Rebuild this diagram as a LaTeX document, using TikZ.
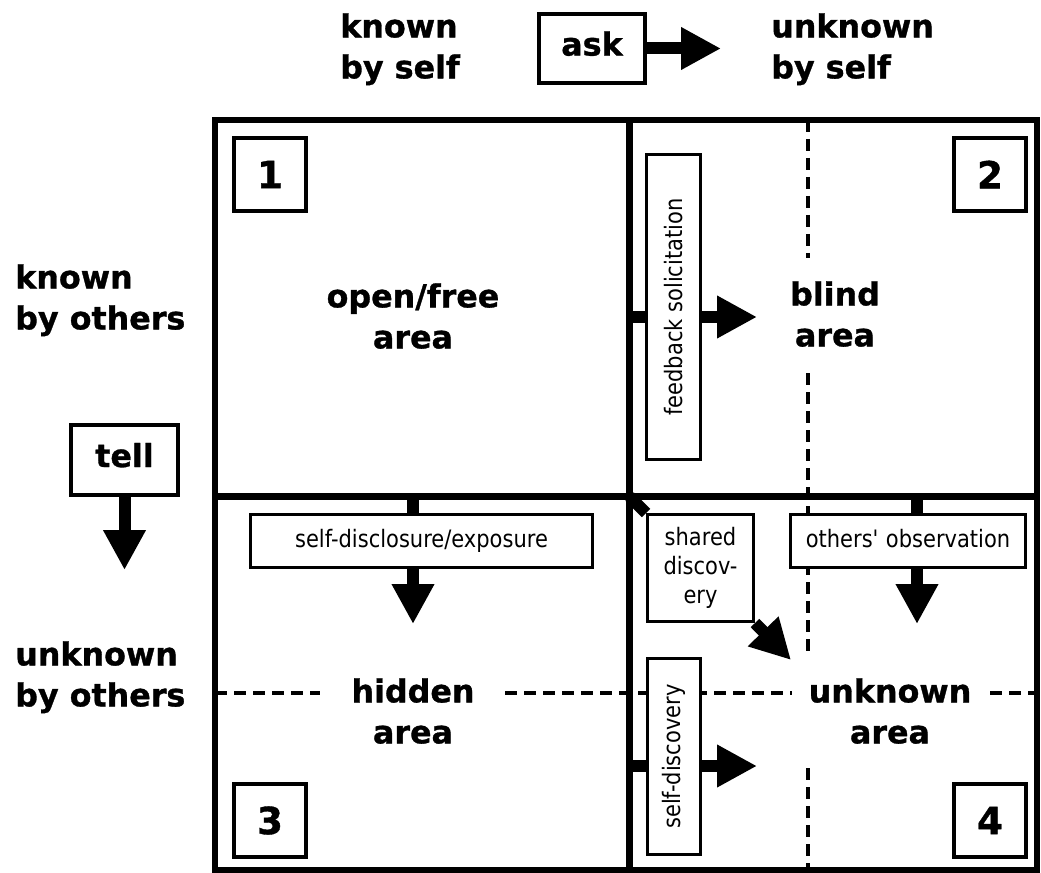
\documentclass[tikz,border=0pt]{standalone}
\usepackage{fontspec}
\usepackage{graphicx}
\setmainfont{DejaVu Sans}[BoldFeatures={FakeBold=1}]
\newfontfamily\smallfont[FakeStretch=0.875]{DejaVu Sans}
\usetikzlibrary{arrows.meta}
\pgfdeclarelayer{bg}
\pgfsetlayers{bg,main}
\tikzset{
  big/.style={font=\fontsize{23.8pt}{30.75pt}\selectfont\bfseries, inner sep=0pt},
  lbl/.style={big, align=left, anchor=north west},
  arealbl/.style={big, align=center, anchor=north},
  numbox/.style={draw, fill=white, line width=3.4pt, inner sep=0pt, minimum width=54pt, minimum height=54.75pt, font=\fontsize{28pt}{34pt}\selectfont\bfseries},
  keybox/.style={draw, fill=white, line width=3pt, inner sep=0pt, text depth=7.5pt, font=\fontsize{23.8pt}{30.75pt}\selectfont\bfseries},
  smallbox/.style={draw, fill=white, line width=2.25pt, inner sep=0pt, font=\smallfont\fontsize{18pt}{21.75pt}\selectfont},
  hbox/.style={smallbox, text height=13.7pt, text depth=4.3pt},
  frame/.style={line width=4.8pt},
  dashline/.style={line width=2.5pt, dash pattern=on 9pt off 5.25pt},
  stub/.style={line width=9pt},
  arr/.style={line width=9pt, -{Triangle[length=30pt,width=30pt]}},
}
\begin{document}
\begin{tikzpicture}[x=0.75pt,y=-0.75pt]
\useasboundingbox (0,0) rectangle (1041,873);

% top and side labels
\node[lbl] (kself) at (340,13) {known\\by self};
\node[lbl] (uself) at (771,13) {unknown\\by self};
\node[lbl] (kothers) at (15,264) {known\\by others};
\node[lbl] (uothers) at (15,641) {unknown\\by others};

\node[keybox, minimum width=79.5pt, minimum height=51.75pt] (ask) at (592,48.5) {ask};
\node[keybox, minimum width=80.25pt, minimum height=52.5pt] (tell) at (124.5,460) {tell};
\coordinate (askt) at (721,48.5);
\coordinate (tellt) at (124.5,570);
\draw[arr] (ask.east) -- (askt);
\draw[arr] (tell.south) -- (tellt);

% area labels
\node[arealbl] (open) at (413,283) {open/free\\area};
\node[arealbl] (blind) at (835,281) {blind\\area};
\node[arealbl] (hidden) at (413,678) {hidden\\area};
\node[arealbl] (unknown) at (890,678) {unknown\\area};

% number boxes
\node[numbox] (n1) at (270,174.5) {1};
\node[numbox] (n2) at (990,174.5) {2};
\node[numbox] (n3) at (270,820.5) {3};
\node[numbox] (n4) at (990,820.5) {4};

% process boxes
\node[smallbox, minimum width=40.5pt, minimum height=228.75pt] (fb) at (673.5,307) {\rotatebox{90}{feedback solicitation}};
\node[hbox, minimum width=256.5pt, minimum height=39.75pt] (sdx) at (421.5,541) {self-disclosure/exposure};
\node[hbox, minimum width=176.25pt, minimum height=39.75pt] (oo) at (908,541) {others\textquotesingle\ observation};
\node[smallbox, align=center, minimum width=79.5pt, minimum height=80.25pt] (sh) at (700.5,568) {shared\\discov-\\ery};
\node[smallbox, minimum width=39.75pt, minimum height=147pt] (sdv) at (674,756.5) {\rotatebox{90}{self-discovery}};

\coordinate (mid) at (629.5,496.5);
\coordinate (fbs) at (629.5,317);
\coordinate (fbt) at (757,317);
\coordinate (sds) at (413,496.5);
\coordinate (sdt) at (413,624);
\coordinate (oos) at (917,496.5);
\coordinate (oot) at (917,624);
\coordinate (sht) at (791,660);
\coordinate (svs) at (629.5,766);
\coordinate (svt) at (757,766);

\begin{pgfonlayer}{bg}
  % dashed axes
  \draw[dashline] (808,120) -- (808,258);
  \draw[dashline] (808,373) -- (808,655);
  \draw[dashline] (808,768) -- (808,870);
  \draw[dashline] (215,693) -- (320,693);
  \draw[dashline] (505,693) -- (792,693);
  \draw[dashline] (990,693) -- (1037,693);
  % frame
  \draw[frame] (215,120) rectangle (1037,870);
  \draw[frame] (629.5,120) -- (629.5,870);
  \draw[frame] (215,496.5) -- (1037,496.5);
  % connectors
  \draw[stub] (fbs) -- (fbs -| fb.west);
  \draw[arr] (fbs -| fb.east) -- (fbt);
  \draw[stub] (sds) -- (sds |- sdx.north);
  \draw[arr] (sds |- sdx.south) -- (sdt);
  \draw[stub] (oos) -- (oos |- oo.north);
  \draw[arr] (oos |- oo.south) -- (oot);
  \draw[stub] (mid) -- (sh.north west);
  \draw[arr] (sh.south east) -- (sht);
  \draw[stub] (svs) -- (svs -| sdv.west);
  \draw[arr] (svs -| sdv.east) -- (svt);
\end{pgfonlayer}
\end{tikzpicture}
\end{document}
